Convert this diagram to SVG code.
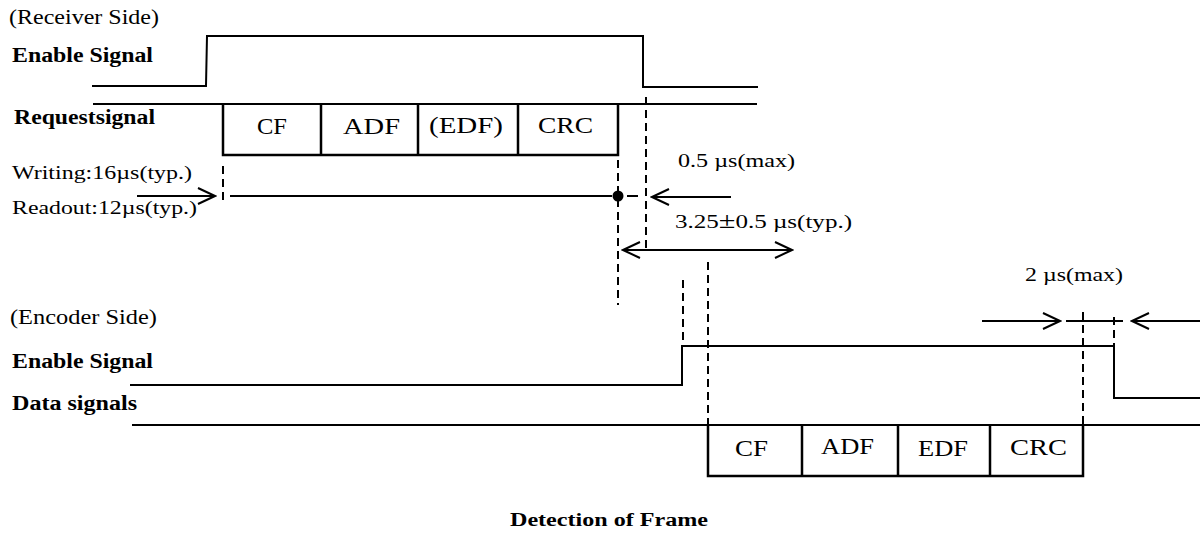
<svg xmlns="http://www.w3.org/2000/svg" width="1200" height="534" viewBox="0 0 1200 534">
<style>
  text { font-family: "Liberation Serif", "Times New Roman", serif; fill: #000; }
  .lbl { font-size: 20px; }
  .b { font-size: 20px; font-weight: bold; }
  .box { font-size: 23px; }
  .note { font-size: 19px; }
  .sig { fill: none; stroke: #000; stroke-width: 2; }
  .frm { fill: none; stroke: #000; stroke-width: 2.5; }
  .dash { fill: none; stroke: #000; stroke-width: 2; stroke-dasharray: 8 5; }
  .arr { fill: none; stroke: #000; stroke-width: 2; marker-end: url(#chev); }
  .darr { fill: none; stroke: #000; stroke-width: 2; marker-end: url(#chev); marker-start: url(#chev); }
</style>
<defs>
  <marker id="chev" markerUnits="userSpaceOnUse" markerWidth="22" markerHeight="22" viewBox="-3 -11 22 22" refX="17" refY="0" orient="auto-start-reverse">
    <path d="M0,-8 L17,0 L0,8" fill="none" stroke="#000" stroke-width="2"/>
  </marker>
</defs>
<rect width="1200" height="534" fill="#fff"/>

<g id="labels">
  <text class="lbl" x="9" y="24" textLength="150" lengthAdjust="spacingAndGlyphs">(Receiver Side)</text>
  <text class="b" x="12" y="62" textLength="141" lengthAdjust="spacingAndGlyphs">Enable Signal</text>
  <text class="b" x="14" y="124" textLength="141" lengthAdjust="spacingAndGlyphs">Requestsignal</text>
  <text class="note" x="12" y="179" textLength="180" lengthAdjust="spacingAndGlyphs">Writing:16µs(typ.)</text>
  <text class="note" x="12" y="214" textLength="185" lengthAdjust="spacingAndGlyphs">Readout:12µs(typ.)</text>
  <text class="lbl" x="10" y="324" textLength="147" lengthAdjust="spacingAndGlyphs">(Encoder Side)</text>
  <text class="b" x="12" y="368" textLength="141" lengthAdjust="spacingAndGlyphs">Enable Signal</text>
  <text class="b" x="12" y="410" textLength="125" lengthAdjust="spacingAndGlyphs">Data signals</text>
  <text class="note" x="678" y="167" textLength="117" lengthAdjust="spacingAndGlyphs">0.5 µs(max)</text>
  <text class="note" x="675" y="228" textLength="177" lengthAdjust="spacingAndGlyphs">3.25<tspan style="font-size:23px">±</tspan>0.5 µs(typ.)</text>
  <text class="note" x="1025" y="281" textLength="98" lengthAdjust="spacingAndGlyphs">2 µs(max)</text>
  <text class="b" x="510" y="526" style="font-size:18px" textLength="198" lengthAdjust="spacingAndGlyphs">Detection of Frame</text>
</g>

<g id="rx-enable">
  <path class="sig" d="M92,86 H206 L207,36 H643 V87 H758"/>
</g>

<g id="rx-request">
  <path class="sig" d="M93,104 H757"/>
  <path class="frm" d="M223,104 V155 H618 V104 M321,104 V156 M418,104 V156 M518,104 V156"/>
  <text class="box" x="257" y="134" textLength="30" lengthAdjust="spacingAndGlyphs">CF</text>
  <text class="box" x="343" y="134" textLength="57" lengthAdjust="spacingAndGlyphs">ADF</text>
  <text class="box" x="429" y="133" textLength="74" lengthAdjust="spacingAndGlyphs">(EDF)</text>
  <text class="box" x="538" y="133" textLength="55" lengthAdjust="spacingAndGlyphs">CRC</text>
</g>

<g id="tx-enable">
  <path class="sig" d="M130,385 H682 V346 H1114 V398 H1200"/>
</g>

<g id="tx-data">
  <path class="sig" d="M132,425 H1200"/>
  <path class="frm" d="M708,425 V476 H1083 V425 M802,425 V476 M898,425 V476 M990,425 V476"/>
  <text class="box" x="735" y="456" textLength="33" lengthAdjust="spacingAndGlyphs">CF</text>
  <text class="box" x="821" y="454" textLength="53" lengthAdjust="spacingAndGlyphs">ADF</text>
  <text class="box" x="918" y="456" textLength="50" lengthAdjust="spacingAndGlyphs">EDF</text>
  <text class="box" x="1010" y="455" textLength="57" lengthAdjust="spacingAndGlyphs">CRC</text>
</g>

<g id="connectors">
  <path class="dash" d="M223,166 V205"/>
  <path class="dash" d="M618,160 V305"/>
  <path class="dash" d="M646,97 V252"/>
  <path class="dash" d="M683,280 V345"/>
  <path class="dash" d="M708,262 V425"/>
  <path class="dash" d="M1083,312 V425"/>
  <path class="dash" d="M1114,317 V345"/>
  <path class="arr" d="M137,196 H215"/>
  <path class="sig" d="M230,196 H612"/>
  <circle cx="618" cy="196" r="5.5" fill="#000"/>
  <path class="sig" d="M627,196 H638"/>
  <path class="arr" d="M731,197 H652"/>
  <path class="darr" d="M623,250 H792"/>
  <path class="arr" d="M982,321 H1060"/>
  <path class="sig" d="M1066,321 H1123"/>
  <path class="arr" d="M1200,321 H1132"/>
</g>
</svg>
